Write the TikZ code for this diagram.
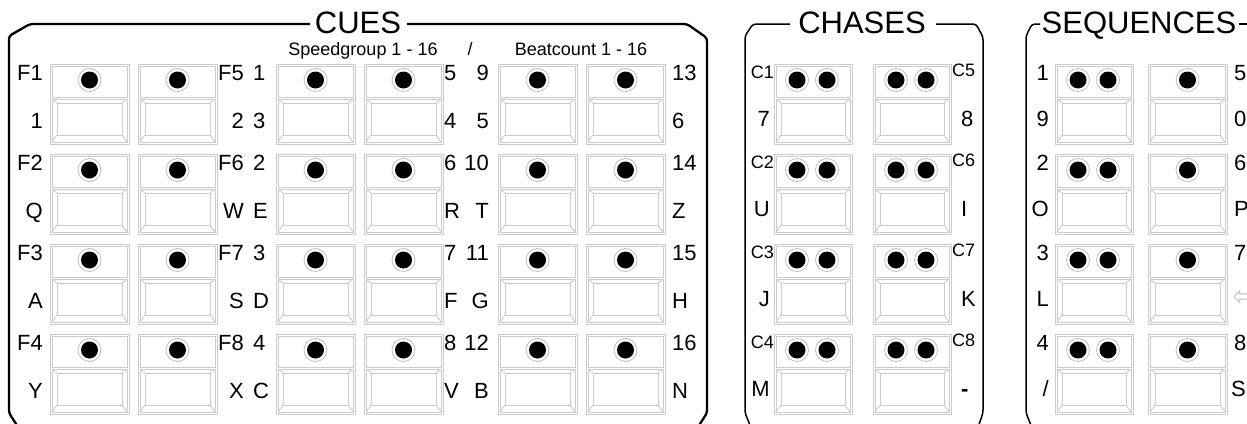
\documentclass[tikz,border=0pt]{standalone}
\usepackage{fontspec}
\setmainfont{Liberation Sans}
\newfontfamily\symfont{DejaVu Sans}
\usepackage{tikz}
\usetikzlibrary{positioning}

\definecolor{keygray}{gray}{0.8}
\definecolor{ledgray}{gray}{0.75}

\tikzset{
  keyline/.style={draw=keygray, line width=0.9pt},
  frameline/.style={line width=1.5pt, line join=round, rounded corners=3pt},
  keylbl/.style={font=\fontsize{22}{22}\selectfont, inner sep=0pt},
  chlbl/.style={font=\fontsize{18}{18}\selectfont, inner sep=0pt},
  paneltitle/.style={font=\fontsize{31}{31}\selectfont, inner sep=0pt, anchor=base},
  subtitle/.style={font=\fontsize{18}{18}\selectfont, inner sep=0pt, anchor=base},
}

% one key, top left corner at (#1,#2), width #3
\newcommand{\panelkey}[3]{
  \draw[keyline] (#1,#2) rectangle ++(#3,80);
  \draw[keyline] (#1+2,#2+2) rectangle (#1+#3-2,#2+33);
  \draw[keyline] (#1+2,#2+35) rectangle (#1+#3-2,#2+78);
  \draw[keyline] (#1+7,#2+39) rectangle (#1+#3-7,#2+71);
  \draw[keyline] (#1+2,#2+35) -- (#1+7,#2+39) (#1+#3-2,#2+35) -- (#1+#3-7,#2+39)
    (#1+2,#2+78) -- (#1+7,#2+71) (#1+#3-2,#2+78) -- (#1+#3-7,#2+71);
}
% one led at (#1,#2)
\newcommand{\panelled}[2]{
  \draw[draw=ledgray, line width=0.8pt, fill=white] (#1,#2) circle[radius=11.5pt];
  \fill (#1,#2) circle[radius=8.5pt];
}

\begin{document}
\begin{tikzpicture}[x=1pt,y=-1pt]
\useasboundingbox (0,0) rectangle (1247,423);
\clip (0,0) rectangle (1247,423);

% Cues frame
\draw[frameline, line width=2.3pt] (310,24) -- (30,24) -- (9,36) -- (9,413) -- (20,430);
\draw[frameline, line width=2.3pt] (407,24) -- (687,24) -- (707,38) -- (707,413) -- (696,430);
\node[paneltitle] (cuestitle) at (358,33) {CUES};
\node[subtitle] (speedgroup) at (363,55) {Speedgroup 1 - 16};
\node[subtitle] (slash) at (470,55) {/};
\node[subtitle] (beatcount) at (581,55) {Beatcount 1 - 16};

% Cue keys
\foreach \x in {50,138,276,364,498,586} {
  \foreach \y in {64,154,244,334} {
    \panelkey{\x}{\y}{79}
    \panelled{\x+39.5}{\y+16}
  }
}

% Cue labels
\foreach \r/\ta/\tb in {0/F1/1,1/F2/Q,2/F3/A,3/F4/Y} {
  \node[keylbl, anchor=base east] (cuea\r) at (43,80+90*\r) {\ta};
  \node[keylbl, anchor=base east] (cueak\r) at (43,128+90*\r) {\tb};
}
\foreach \r/\ta/\tb/\tc/\td in {0/F5/1/2/3,1/F6/2/W/E,2/F7/3/S/D,3/F8/4/X/C} {
  \node[keylbl, anchor=base east] (cueb\r) at (244,80+90*\r) {\ta};
  \node[keylbl, anchor=base west] (cuebn\r) at (253,80+90*\r) {\tb};
  \node[keylbl, anchor=base east] (cuebk\r) at (244,128+90*\r) {\tc};
  \node[keylbl, anchor=base west] (cuebl\r) at (253,128+90*\r) {\td};
}
\foreach \r/\ta/\tb/\tc/\td in {0/5/9/4/5,1/6/10/R/T,2/7/11/F/G,3/8/12/V/B} {
  \node[keylbl, anchor=base west] (cuec\r) at (444,80+90*\r) {\ta};
  \node[keylbl, anchor=base east] (cuecn\r) at (489,80+90*\r) {\tb};
  \node[keylbl, anchor=base west] (cueck\r) at (444,128+90*\r) {\tc};
  \node[keylbl, anchor=base east] (cuecl\r) at (489,128+90*\r) {\td};
}
\foreach \r/\ta/\tb in {0/13/6,1/14/Z,2/15/H,3/16/N} {
  \node[keylbl, anchor=base west] (cued\r) at (672,80+90*\r) {\ta};
  \node[keylbl, anchor=base west] (cuedk\r) at (672,128+90*\r) {\tb};
}

% Chases frame
\draw[frameline] (790,24) -- (753,24) -- (745,36) -- (745,413) -- (752,430);
\draw[frameline] (936,24) -- (976,24) -- (983,37) -- (983,413) -- (977,430);
\node[paneltitle] (chasetitle) at (862,33) {CHASES};

% Chase keys
\foreach \x in {774,873} {
  \foreach \y in {64,154,244,334} {
    \panelkey{\x}{\y}{78}
    \panelled{\x+23}{\y+16}
    \panelled{\x+53}{\y+16}
  }
}

% Chase labels
\foreach \r/\ta/\tb in {0/C1/7,1/C2/U,2/C3/J,3/C4/M} {
  \node[chlbl, anchor=base east] (chasea\r) at (774,78+90*\r) {\ta};
  \node[keylbl, anchor=base east] (chaseak\r) at (770,126+90*\r) {\tb};
}
\foreach \r/\ta/\tb in {0/C5/8,1/C6/I,2/C7/K,3/C8/{\textbf{-}}} {
  \node[chlbl, anchor=base west] (chaseb\r) at (952,76+90*\r) {\ta};
  \node[keylbl, anchor=base west] (chasebk\r) at (961,126+90*\r) {\tb};
}

% Sequences frame
\draw[frameline] (1040,24) -- (1032,24) -- (1026,36) -- (1026,413) -- (1033,430);
\draw[frameline] (1239,24) -- (1250,24);
\node[paneltitle] (seqtitle) at (1139,33) {SEQUENCES};

% Sequence keys
\foreach \y in {64,154,244,334} {
  \panelkey{1055}{\y}{78}
  \panelled{1078}{\y+16}
  \panelled{1108}{\y+16}
  \panelkey{1148}{\y}{79}
  \panelled{1187.5}{\y+16}
}

% Sequence labels
\foreach \r/\ta/\tb in {0/1/9,1/2/O,2/3/L} {
  \node[keylbl, anchor=base east] (seqa\r) at (1049,80+90*\r) {\ta};
  \node[keylbl, anchor=base east] (seqak\r) at (1049,126+90*\r) {\tb};
}
\node[keylbl, anchor=base east] (seqa3) at (1049,350) {4};
\node[keylbl, anchor=base east] (seqak3) at (1049,396) {/};
\foreach \r/\ta/\tb in {0/5/0,1/6/P} {
  \node[keylbl, anchor=base west] (seqb\r) at (1234,80+90*\r) {\ta};
  \node[keylbl, anchor=base west] (seqbk\r) at (1234,126+90*\r) {\tb};
}
\node[keylbl, anchor=base west] (seqb2) at (1234,260) {7};
\node[keylbl, anchor=base west] (seqb3) at (1234,350) {8};
\node[keylbl, anchor=base west] (seqbk3) at (1231,396) {SP};
\node[anchor=west, inner sep=0pt, text=gray!40, font=\symfont\fontsize{30}{30}\selectfont] (seqbk2) at (1232,298) {⇦};

\end{tikzpicture}
\end{document}
